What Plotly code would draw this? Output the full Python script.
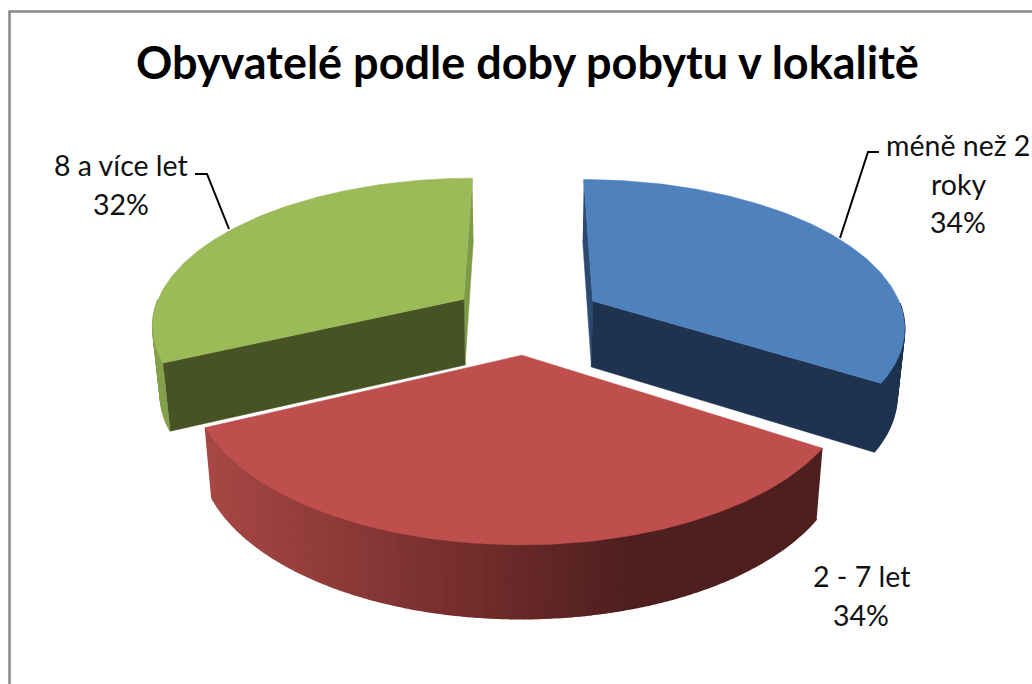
import numpy as np
import plotly.graph_objects as go

# --- data ---
categories = ["méně než 2 roky", "2 - 7 let", "8 a více let"]
shares = [34, 34, 32]
title_text = "Obyvatelé podle doby pobytu v lokalitě"

# --- styles ---
top_colors = ["#4F81BD", "#BE4F4C", "#9BBB59"]
cut_colors = ["#1F3350", None, "#485325"]
side_colors = ["#1F3350", None, "#84A04D"]
far_edge_colors = ["#2A4A72", None, "#7E9B49"]

# --- projection of the tilted pie ---
CX, CY = 527.0, 318.0
A, B, K = 312.0, 146.0, 0.16
DEPTH, KD = 66.5, 0.08
BOTTOM_SCALE = 0.98
EXPLODE = 0.245


def project(X, Y, drop=False):
    s = 1.0 / (1.0 + K * Y)
    sx = CX + A * X * s
    sy = CY - B * Y * s
    if drop:
        sx = CX + (sx - CX) * BOTTOM_SCALE
        sy = sy + DEPTH / (1.0 + KD * Y)
    return sx, sy


def poly(fig, x, y, color, width=0.5):
    fig.add_trace(go.Scatter(x=list(x), y=list(y), mode="lines", fill="toself",
                             fillcolor=color, line=dict(color=color, width=width),
                             hoverinfo="skip", showlegend=False))


def wall_color(t):
    # red outer wall gets darker from left to right
    c0 = np.array([168, 72, 69])
    c1 = np.array([112, 44, 43])
    c2 = np.array([77, 31, 30])
    if t < 0.65:
        c = c0 + (c1 - c0) * (t / 0.65)
    else:
        c = c1 + (c2 - c1) * ((t - 0.65) / 0.35)
    c = c.astype(int)
    return f"rgb({c[0]},{c[1]},{c[2]})"


fig = go.Figure()

fractions = np.array(shares, dtype=float) / sum(shares)
ends = np.cumsum(fractions) * 2 * np.pi
starts = ends - fractions * 2 * np.pi

for i in [2, 0, 1]:  # back slices first, the front slice last
    a0, a1 = starts[i], ends[i]
    mid = (a0 + a1) / 2
    ox, oy = EXPLODE * np.sin(mid), EXPLODE * np.cos(mid)
    th = np.linspace(a0, a1, 121)
    X = ox + np.sin(th)
    Y = oy + np.cos(th)
    tx, ty = project(X, Y)
    bx, by = project(X, Y, True)
    ax, ay = project(ox, oy)
    adx, ady = project(ox, oy, True)

    # outer wall: only the part of the rim that faces the viewer
    for j in range(len(th) - 1):
        if np.cos(th[j]) > -0.02 and np.cos(th[j + 1]) > -0.02:
            continue
        if side_colors[i]:
            color = side_colors[i]
        else:
            color = wall_color(min(1.0, max(0.0, (tx[j] - tx.min()) / (640.0 - tx.min()))))
        poly(fig, [tx[j], tx[j + 1], bx[j + 1], bx[j]],
             [ty[j], ty[j + 1], by[j + 1], by[j]], color, width=1.5)

    # cut walls: only the two back slices show theirs
    if i == 0:
        poly(fig, [tx[0], ax, adx, bx[0]], [ty[0], ay, ady, by[0]], far_edge_colors[i])
        poly(fig, [tx[-1], ax, adx, bx[-1]], [ty[-1], ay, ady, by[-1]], cut_colors[i])
    elif i == 2:
        poly(fig, [tx[-1], ax, adx, bx[-1]], [ty[-1], ay, ady, by[-1]], far_edge_colors[i])
        poly(fig, [tx[0], ax, adx, bx[0]], [ty[0], ay, ady, by[0]], cut_colors[i])

    # top face
    poly(fig, [ax] + list(tx) + [ax], [ay] + list(ty) + [ay], top_colors[i])

fig.update_layout(
    width=1032, height=684, autosize=False,
    margin=dict(l=0, r=0, t=0, b=0),
    paper_bgcolor="white", plot_bgcolor="white",
    showlegend=False,
    xaxis=dict(range=[0, 1032], visible=False, fixedrange=True),
    yaxis=dict(range=[684, 0], visible=False, fixedrange=True),
    shapes=[
        dict(type="rect", xref="x", yref="y", x0=9.5, y0=11.5, x1=1100, y1=800,
             line=dict(color="#868686", width=2.5), layer="below"),
        dict(type="path", xref="x", yref="y", path="M 195 174 L 207 174 L 229 229",
             line=dict(color="black", width=2)),
        dict(type="path", xref="x", yref="y", path="M 879 152 L 868 152 L 840 238",
             line=dict(color="black", width=2)),
    ],
)

FONT = "Lato, Carlito, sans-serif"
fig.add_annotation(x=527, y=61.5, xref="x", yref="y", text=f"<b>{title_text}</b>", showarrow=False,
                   font=dict(family=FONT, size=45, color="black"), xanchor="center", yanchor="middle")

label_lines = [
    ["méně než 2", "roky", f"{shares[0]}%"],
    ["2 - 7 let", f"{shares[1]}%"],
    ["8 a více let", f"{shares[2]}%"],
]
label_x = [958, 861, 121]
label_y = [145, 576, 165]
for lines, lx, ly in zip(label_lines, label_x, label_y):
    for n, line in enumerate(lines):
        fig.add_annotation(x=lx, y=ly + n * 38.5, xref="x", yref="y", text=line, showarrow=False,
                           font=dict(family=FONT, size=28.5, color="#111111"),
                           xanchor="center", yanchor="middle")

fig.write_html("out.html", config={"displayModeBar": False},
               post_script="document.body.style.margin='0';document.body.style.overflow='hidden';")
